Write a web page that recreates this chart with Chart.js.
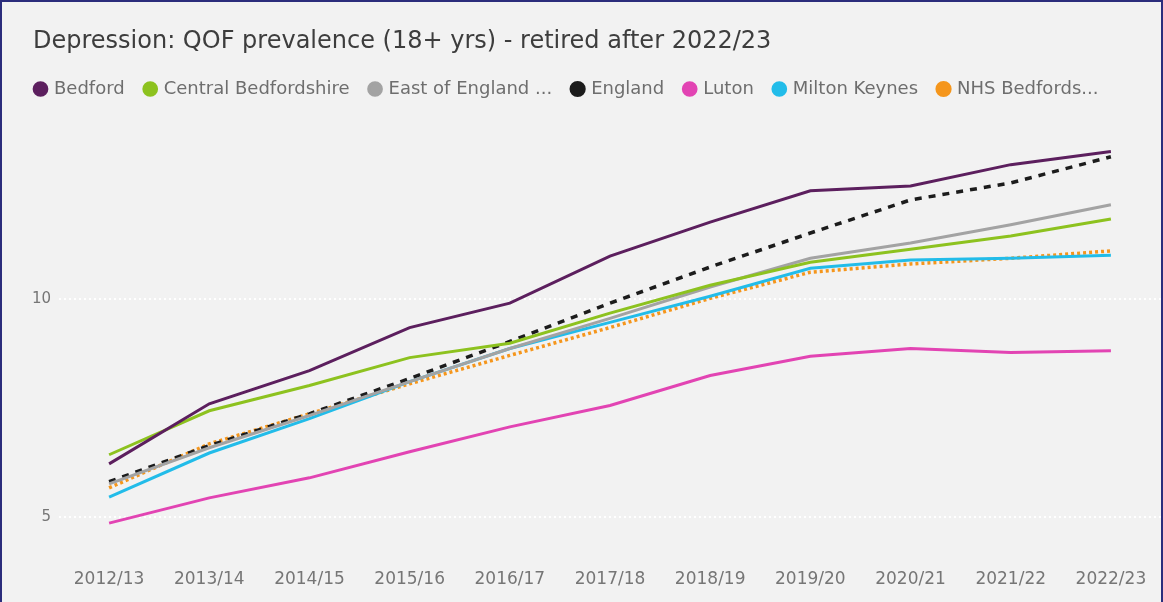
<!DOCTYPE html>
<html>
<head>
<meta charset="utf-8">
<script src="https://cdn.jsdelivr.net/npm/chart.js@4"></script>
<style>
  html, body { margin: 0; padding: 0; background: #ffffff; }
  #wrap {
    width: 1163px;
    height: 602px;
    box-sizing: border-box;
    border: 2px solid #2b2d7c;
    border-bottom: none;
    background: #f2f2f2;
  }
  canvas { display: block; }
</style>
</head>
<body>
<div id="wrap"><canvas id="qofChart"></canvas></div>
<script>
// chart data
const chartTitle = 'Depression: QOF prevalence (18+ yrs) - retired after 2022/23';
const years = ['2012/13', '2013/14', '2014/15', '2015/16', '2016/17', '2017/18',
  '2018/19', '2019/20', '2020/21', '2021/22', '2022/23'];
const seriesNames = ['Bedford', 'Central Bedfordshire', 'East of England ...', 'England',
  'Luton', 'Milton Keynes', 'NHS Bedfords...'];

const bedford = [6.22, 7.60, 8.36, 9.35, 9.91, 10.99, 11.77, 12.49, 12.60, 13.09, 13.39];
const centralBeds = [6.43, 7.44, 8.02, 8.66, 8.99, 9.68, 10.32, 10.85, 11.15, 11.45, 11.84];
const eastOfEngland = [5.76, 6.59, 7.33, 8.11, 8.87, 9.56, 10.28, 10.94, 11.29, 11.71, 12.17];
const england = [5.81, 6.64, 7.37, 8.18, 9.03, 9.91, 10.74, 11.52, 12.28, 12.67, 13.27];
const luton = [4.86, 5.44, 5.90, 6.50, 7.07, 7.56, 8.25, 8.69, 8.87, 8.78, 8.82];
const miltonKeynes = [5.46, 6.47, 7.26, 8.11, 8.87, 9.47, 10.07, 10.71, 10.90, 10.94, 11.01];
const nhsBeds = [5.67, 6.68, 7.37, 8.06, 8.71, 9.35, 10.02, 10.62, 10.81, 10.94, 11.11];

const yTicks = [5, 10];

const colours = ['#5c1f5e', '#8dc21f', '#a3a3a3', '#1c1c1c', '#e244b3', '#22bce9', '#f5961c'];
const values = [bedford, centralBeds, eastOfEngland, england, luton, miltonKeynes, nhsBeds];

// title drawn by hand so it lines up with the legend
const titlePlugin = {
  id: 'titlePlugin',
  afterDraw(chart) {
    const ctx = chart.ctx;
    ctx.save();
    ctx.font = '24px "DejaVu Sans"';
    ctx.fillStyle = '#3d3d3d';
    ctx.textBaseline = 'middle';
    ctx.fillText(chartTitle, 31, 40);
    ctx.restore();
  }
};

// extra space under the legend
const legendGap = {
  id: 'legendGap',
  beforeInit(chart) {
    const origFit = chart.legend.fit;
    chart.legend.fit = function fit() {
      origFit.bind(chart.legend)();
      this.height += 17;
    };
  }
};

const datasets = seriesNames.map((name, i) => {
  const ds = {
    label: name,
    data: values[i],
    borderColor: colours[i],
    backgroundColor: colours[i],
    borderWidth: 3,
    pointRadius: 0,
    pointHoverRadius: 0,
    tension: 0,
    fill: false
  };
  if (name === 'England') {
    ds.borderDash = [7, 7];
    ds.borderWidth = 3.5;
  }
  if (name === 'NHS Bedfords...') {
    ds.borderDash = [3, 3];
    ds.borderWidth = 3.5;
  }
  return ds;
});

const ctx = document.getElementById('qofChart').getContext('2d');
new Chart(ctx, {
  type: 'line',
  data: {
    labels: years,
    datasets: datasets
  },
  options: {
    responsive: true,
    maintainAspectRatio: false,
    animation: false,
    layout: {
      padding: { top: 57, left: 13, right: 0, bottom: 3 }
    },
    plugins: {
      title: { display: false },
      tooltip: { enabled: false },
      legend: {
        display: true,
        position: 'top',
        align: 'start',
        labels: {
          usePointStyle: true,
          pointStyle: 'circle',
          boxWidth: 9,
          boxHeight: 9,
          padding: 21,
          color: '#6e6e6e',
          font: { family: '"DejaVu Sans"', size: 18 }
        }
      }
    },
    scales: {
      x: {
        offset: true,
        grid: { display: false, drawTicks: false },
        border: { display: false },
        ticks: {
          color: '#767676',
          padding: 9,
          maxRotation: 0,
          autoSkip: false,
          font: { family: '"DejaVu Sans"', size: 17 }
        }
      },
      y: {
        min: 4,
        max: 14,
        afterBuildTicks: (scale) => {
          scale.ticks = yTicks.map((v) => ({ value: v }));
        },
        afterFit: (scale) => {
          scale.width = 44;
        },
        grid: { color: '#ffffff', lineWidth: 2, drawTicks: false },
        border: { display: false, dash: [2, 3] },
        ticks: {
          color: '#767676',
          padding: 8,
          font: { family: '"DejaVu Sans"', size: 15 }
        }
      }
    }
  },
  plugins: [titlePlugin, legendGap]
});
</script>
</body>
</html>
